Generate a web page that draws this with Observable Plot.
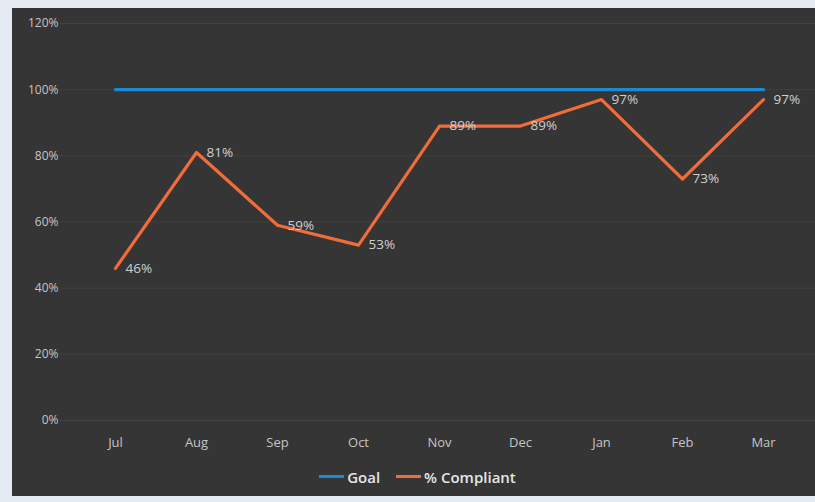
<!DOCTYPE html>
<html>
<head>
<meta charset="utf-8">
<script src="https://cdn.jsdelivr.net/npm/d3@7"></script>
<script src="https://cdn.jsdelivr.net/npm/@observablehq/plot@0.6"></script>
<style>
  html, body { margin: 0; padding: 0; background: #e4ebf3; width: 815px; height: 502px; overflow: hidden; }
  #frame { position: absolute; left: 12px; top: 8px; width: 803px; height: 488px; background: #353535; }
  #legend { position: absolute; left: 0; top: 452px; width: 803px; height: 33px; display: flex; justify-content: center; align-items: center; font-family: "Open Sans", sans-serif; font-weight: 600; font-size: 15px; color: #e6e6e6; gap: 16px; padding-left: 8px; box-sizing: border-box; }
  .item { display: flex; align-items: center; gap: 3px; }
  .sw { width: 25px; height: 3px; display: inline-block; }
</style>
</head>
<body>
<div id="frame"><div id="chart"></div>
<div id="legend">
  <div class="item"><span class="sw" style="background:#1b8ad4"></span>Goal</div>
  <div class="item"><span class="sw" style="background:#f26b3a"></span>% Compliant</div>
</div></div>
<script>
const months = ["Jul","Aug","Sep","Oct","Nov","Dec","Jan","Feb","Mar"];
const compliant = [46, 81, 59, 53, 89, 89, 97, 73, 97];
const goal = [100, 100, 100, 100, 100, 100, 100, 100, 100];
const yTicks = [0, 20, 40, 60, 80, 100, 120];

const comp = months.map((m, i) => ({month: m, value: compliant[i]}));
const gl = months.map((m, i) => ({month: m, value: goal[i]}));

const chart = Plot.plot({
  width: 803,
  height: 455,
  marginLeft: 48,
  marginRight: 0,
  marginTop: 15,
  marginBottom: 43,
  style: {background: "transparent", fontFamily: "Open Sans, sans-serif", fontSize: "12px", color: "#c4c4c4"},
  x: {type: "point", domain: months, range: [100, 753], padding: 0, label: null},
  y: {domain: [0, 120], ticks: yTicks, tickFormat: d => d + "%", label: null},
  marks: [
    Plot.ruleY(yTicks, {stroke: "#414141", strokeWidth: 1}),
    Plot.axisY({ticks: yTicks, tickFormat: d => d + "%", tickSize: 0, tickPadding: 2, textAnchor: "end", fill: "#c4c4c4"}),
    Plot.axisX({tickSize: 0, tickPadding: 17, fill: "#c4c4c4", fontSize: 13}),
    Plot.line(gl, {x: "month", y: "value", stroke: "#1b8ad4", strokeWidth: 3.2}),
    Plot.line(comp, {x: "month", y: "value", stroke: "#f26b3a", strokeWidth: 3.2}),
    Plot.text(comp, {x: "month", y: "value", text: d => d.value + "%", dx: 10, textAnchor: "start", fill: "#cfcfcf", fontSize: 13.5})
  ]
});
document.getElementById("chart").appendChild(chart);
</script>
</body>
</html>
